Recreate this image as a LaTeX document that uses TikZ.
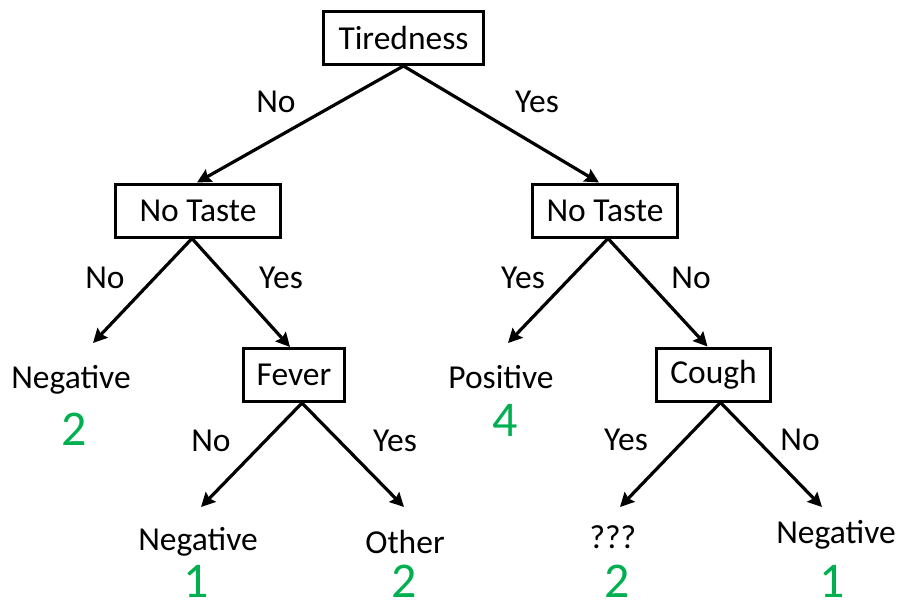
\documentclass[tikz,border=0pt]{standalone}
\usepackage{fontspec}
\setmainfont{Carlito}
\usetikzlibrary{arrows.meta}
\definecolor{numgreen}{RGB}{0,176,80}
\begin{document}
\begin{tikzpicture}[x=1pt, y=-1pt,
  every node/.style={font=\fontsize{33.5}{40}\selectfont},
  test/.style={draw, shape=rectangle, line width=3pt, minimum height=53pt, inner sep=0pt},
  leaf/.style={anchor=base},
  count/.style={anchor=base, text=numgreen, text depth=0pt, inner sep=0pt, font=\fontsize{50}{60}\selectfont},
  answer/.style={anchor=base},
  branch/.style={-{Stealth[length=14pt, width=14pt, inset=2pt]}, line width=3.2pt}]
\useasboundingbox (0,0) rectangle (899,610);
% tests
\node (tired) [test, minimum width=160pt] at (403.5,38) {Tiredness};
\node (tasteL) [test, minimum width=165pt] at (198,210.5) {No Taste};
\node (tasteR) [test, minimum width=145pt] at (605,210.5) {No Taste};
\node (fever) [test, minimum width=101pt] at (294,375) {Fever};
\node (cough) [test, minimum width=114pt] at (713.5,374.5) {Cough};
% outcomes
\node (negA) [leaf] at (71,388) {Negative};
\node (negAn) [count] at (74,445) {2};
\node (pos) [leaf] at (501,388) {Positive};
\node (posn) [count] at (505,436) {4};
\node (negB) [leaf] at (198,550) {Negative};
\node (negBn) [count] at (196,597) {1};
\node (other) [leaf] at (405,553) {Other};
\node (othern) [count] at (404,597) {2};
\node (unk) [leaf] at (613,548) {???};
\node (unkn) [count] at (617,597) {2};
\node (negC) [leaf] at (836,543) {Negative};
\node (negCn) [count] at (832,597) {1};
% arrow tips above the outcomes
\coordinate (negAtip) at (93,343);
\coordinate (postip) at (508,343);
\coordinate (negBtip) at (201,507);
\coordinate (othertip) at (404,507);
\coordinate (unktip) at (620,507);
\coordinate (negCtip) at (822,507);
% answers
\node (tiredNo) [answer] at (276,112) {No};
\node (tiredYes) [answer] at (537,112) {Yes};
\node (tasteLNo) [answer] at (105,288) {No};
\node (tasteLYes) [answer] at (281,288) {Yes};
\node (tasteRYes) [answer] at (523,288) {Yes};
\node (tasteRNo) [answer] at (691,288) {No};
\node (feverNo) [answer] at (211,451) {No};
\node (feverYes) [answer] at (395,451) {Yes};
\node (coughYes) [answer] at (626,450) {Yes};
\node (coughNo) [answer] at (800,450) {No};
\draw[branch] (tired.south) -- ([xshift=-1pt]tasteL.north);
\draw[branch] (tired.south) -- ([xshift=-6pt]tasteR.north);
\draw[branch] ([xshift=-6pt]tasteL.south) -- (negAtip);
\draw[branch] ([xshift=-6pt]tasteL.south) -- ([xshift=-4pt]fever.north);
\draw[branch] ([xshift=3pt]tasteR.south) -- (postip);
\draw[branch] ([xshift=3pt]tasteR.south) -- ([xshift=-6pt]cough.north);
\draw[branch] ([xshift=8pt]fever.south) -- (negBtip);
\draw[branch] ([xshift=8pt]fever.south) -- (othertip);
\draw[branch] ([xshift=7pt]cough.south) -- (unktip);
\draw[branch] ([xshift=7pt]cough.south) -- (negCtip);
\end{tikzpicture}
\end{document}
